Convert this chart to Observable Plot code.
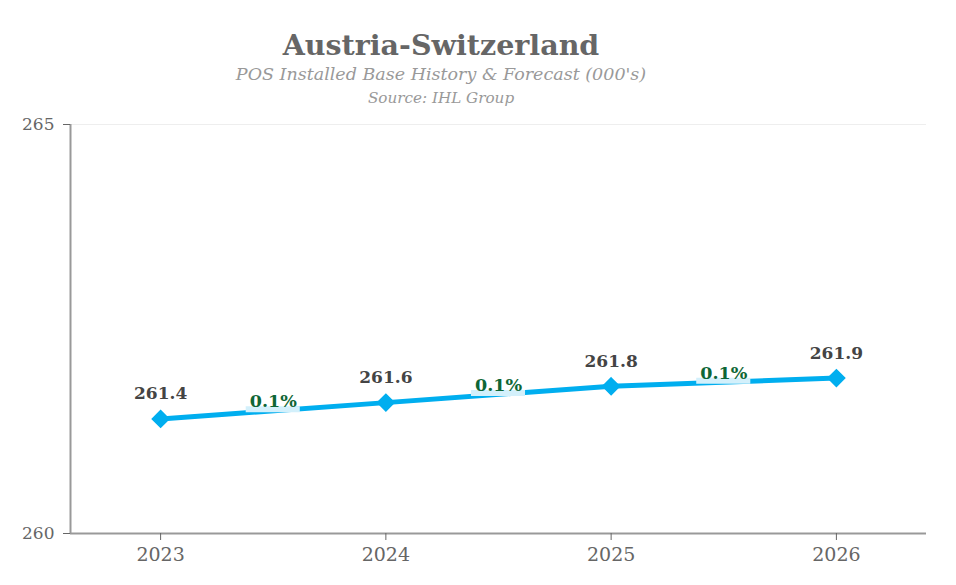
<!DOCTYPE html>
<html>
<head>
<meta charset="utf-8">
<script src="https://cdn.jsdelivr.net/npm/d3@7"></script>
<script src="https://cdn.jsdelivr.net/npm/@observablehq/plot@0.6"></script>
<style>
  html, body { margin: 0; padding: 0; background: #fff; }
  #wrap { position: relative; width: 956px; height: 585px; font-family: "DejaVu Serif", serif; }
  .t { position: absolute; left: 0; width: 882px; text-align: center; white-space: nowrap; }
  #title { top: 28px; font-size: 28.5px; font-weight: bold; color: #666; }
  #sub { top: 64px; font-size: 17.5px; font-style: italic; color: #999; }
  #src { top: 89px; font-size: 15.2px; font-style: italic; color: #999; }
  #chart { position: absolute; left: 0; top: 0; }
</style>
</head>
<body>
<div id="wrap">
  <div id="chart"></div>
  <div class="t" id="title">Austria-Switzerland</div>
  <div class="t" id="sub">POS Installed Base History &amp; Forecast (000's)</div>
  <div class="t" id="src">Source: IHL Group</div>
</div>
<script>
const years = [2023, 2024, 2025, 2026];
const values = [261.4, 261.6, 261.8, 261.9];
const growthLabels = ["0.1%", "0.1%", "0.1%"];
const yTicks = [260, 265];

const points = years.map((y, i) => ({year: y, value: values[i]}));
const growth = growthLabels.map((g, i) => ({
  x: (years[i] + years[i + 1]) / 2,
  y: (values[i] + values[i + 1]) / 2,
  label: g
}));

const xDomain = [2022.6, 2026.4];

const chart = Plot.plot({
  width: 956,
  height: 585,
  marginLeft: 70,
  marginRight: 30,
  marginTop: 124,
  marginBottom: 52,
  style: {fontFamily: "DejaVu Serif", fontSize: "16px", color: "#666", background: "#fff"},
  x: {domain: xDomain, label: null},
  y: {domain: [260, 265], label: null},
  marks: [
    Plot.ruleY([265], {stroke: "#eeeeee", strokeWidth: 1}),
    Plot.ruleX([xDomain[0]], {stroke: "#999", strokeWidth: 2}),
    Plot.ruleY([260], {stroke: "#999", strokeWidth: 2}),
    Plot.line(points, {x: "year", y: "value", stroke: "#00aeef", strokeWidth: 5}),
    Plot.ruleY(growth, {y: "y", x1: d => d.x - 0.12, x2: d => d.x + 0.12, stroke: "#d3f0fb", strokeWidth: 6, dy: -1.5}),
    Plot.dot(points, {x: "year", y: "value", symbol: "diamond2", r: 7.5, fill: "#00aeef", stroke: "#00aeef"}),
    Plot.text(points, {x: "year", y: "value", text: d => d.value.toFixed(1), dy: -25, fill: "#444", fontWeight: "bold", fontSize: 17}),
    Plot.text(growth, {x: "x", y: "y", text: "label", dy: -9, fill: "#0e6636", fontWeight: "bold", fontSize: 17.5}),
    Plot.axisX({ticks: years, tickFormat: d => String(d), tickSize: 7, tickPadding: 7, stroke: "#666", fill: "#666", fontSize: 19, label: null}),
    Plot.axisY({ticks: yTicks, tickFormat: d3.format("d"), tickSize: 7, tickPadding: 9, stroke: "#666", fill: "#666", fontSize: 17, label: null})
  ]
});
document.getElementById("chart").appendChild(chart);
</script>
</body>
</html>
